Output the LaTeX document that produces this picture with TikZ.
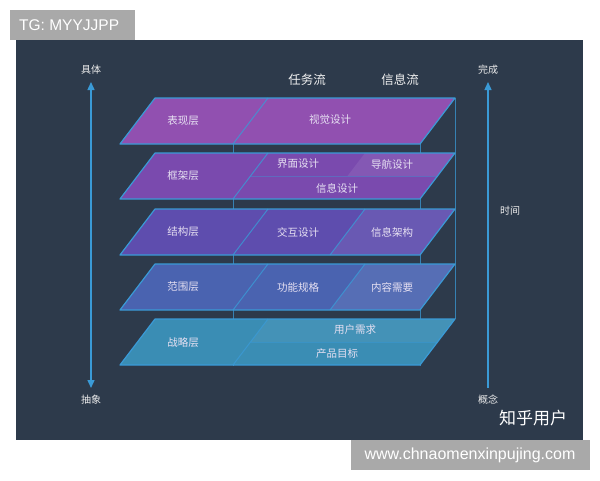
\documentclass[tikz,border=0pt]{standalone}
\usepackage{fontspec}
\setmainfont{Liberation Sans}
\newfontfamily\cjk{Noto Sans CJK SC}
\usetikzlibrary{arrows.meta}
\definecolor{bgdark}{HTML}{2D3A4B}
\definecolor{edgeblue}{HTML}{3A9AD6}
\definecolor{Lone}{HTML}{9150B0}
\definecolor{Ltwo}{HTML}{7A4AAE}
\definecolor{Lthree}{HTML}{5E4DAE}
\definecolor{Lfour}{HTML}{4A63B0}
\definecolor{Lfive}{HTML}{3A8DB4}
\definecolor{graybox}{HTML}{A9A9A9}
\definecolor{lbl}{HTML}{E6E0F2}
\tikzset{
  layer/.style={draw=edgeblue, line width=1.2pt, line join=round},
  divline/.style={draw=edgeblue, line width=1pt, opacity=0.8},
  wire/.style={draw=edgeblue, line width=0.9pt, opacity=0.75},
  lab/.style={font=\cjk\fontsize{10.5}{12}\selectfont, text=lbl, inner sep=1pt},
  hdr/.style={font=\cjk\fontsize{12.5}{14}\selectfont, text=white!90!gray, inner sep=1pt},
  axis/.style={draw=edgeblue, line width=1.4pt},
  side/.style={font=\cjk\fontsize{10}{11}\selectfont, text=white!85!gray, inner sep=1pt}
}
\begin{document}
\begin{tikzpicture}[x=1pt,y=-1pt]
\useasboundingbox (0,0) rectangle (600,480);
\fill[white] (0,0) rectangle (600,480);
\fill[bgdark] (16,40) rectangle (583,440);
% watermark boxes
\fill[graybox] (10,10) rectangle (135,40);
\node[font=\fontsize{15.5}{17}\selectfont, text=white, anchor=west, inner sep=0pt] (tg) at (19,25) {TG: MYYJJPP};
\fill[graybox] (351,440) rectangle (590,470);
\node[font=\fontsize{16}{18}\selectfont, text=white, inner sep=0pt] (url) at (470,455) {www.chnaomenxinpujing.com};
\node[font=\cjk\fontsize{17}{18}\selectfont, text=white] (zh) at (533,418) {知乎用户};
% wireframe verticals
\draw[wire] (233,143) -- (233,366);
\draw[wire] (420,143) -- (420,366);
\draw[wire] (455,98) -- (455,319);
% layers
\foreach \t/\c in {319/Lfive,264/Lfour,209/Lthree,153/Ltwo,98/Lone}{
  \fill[\c] (155,\t) -- (455,\t) -- (420,\t+46) -- (120,\t+46) -- cycle;
}
% lighter sub-regions
\fill[white,opacity=0.08] (365,153) -- (455,153) -- (437.5,176) -- (347.5,176) -- cycle;
\fill[white,opacity=0.07] (365,209) -- (455,209) -- (420,255) -- (330,255) -- cycle;
\fill[white,opacity=0.07] (365,264) -- (455,264) -- (420,310) -- (330,310) -- cycle;
\fill[white,opacity=0.05] (268,319) -- (455,319) -- (437.5,342) -- (250.5,342) -- cycle;
\foreach \t in {319,264,209,153,98}{
  \draw[layer] (155,\t) -- (455,\t) -- (420,\t+46) -- (120,\t+46) -- cycle;
  \draw[divline] (268,\t) -- (233,\t+46);
}
\draw[divline] (365,209) -- (330,255);
\draw[divline] (365,264) -- (330,310);
\draw[divline,opacity=0.5] (250.5,342) -- (437.5,342);
\draw[divline,opacity=0.4] (250.5,176) -- (437.5,176);
% headers
\node[hdr] (h1) at (307,80) {任务流};
\node[hdr] (h2) at (400,80) {信息流};
% labels
\node[lab] (a1) at (183,121) {表现层};
\node[lab] (a2) at (330,120) {视觉设计};
\node[lab] (b1) at (183,176) {框架层};
\node[lab] (b2) at (298,164) {界面设计};
\node[lab] (b3) at (392,164) {导航设计};
\node[lab] (b4) at (337,188) {信息设计};
\node[lab] (c1) at (183,232) {结构层};
\node[lab] (c2) at (298,232) {交互设计};
\node[lab] (c3) at (392,232) {信息架构};
\node[lab] (d1) at (183,287) {范围层};
\node[lab] (d2) at (298,287) {功能规格};
\node[lab] (d3) at (392,287) {内容需要};
\node[lab] (e1) at (183,343) {战略层};
\node[lab] (e2) at (355,330) {用户需求};
\node[lab] (e3) at (337,354) {产品目标};
% axes
\node[side] (top1) at (91,70) {具体};
\node[side] (bot1) at (91,400) {抽象};
\node[side] (top2) at (488,70) {完成};
\node[side] (bot2) at (488,400) {概念};
\node[side] (time) at (510,211) {时间};
\coordinate (la) at (91,82);
\coordinate (lb) at (91,388);
\coordinate (ra) at (488,82);
\coordinate (rb) at (488,388);
\draw[axis,{Triangle[length=8pt,width=7pt]}-{Triangle[length=8pt,width=7pt]}] (la) -- (lb);
\draw[axis,{Triangle[length=8pt,width=7pt]}-] (ra) -- (rb);
\end{tikzpicture}
\end{document}
